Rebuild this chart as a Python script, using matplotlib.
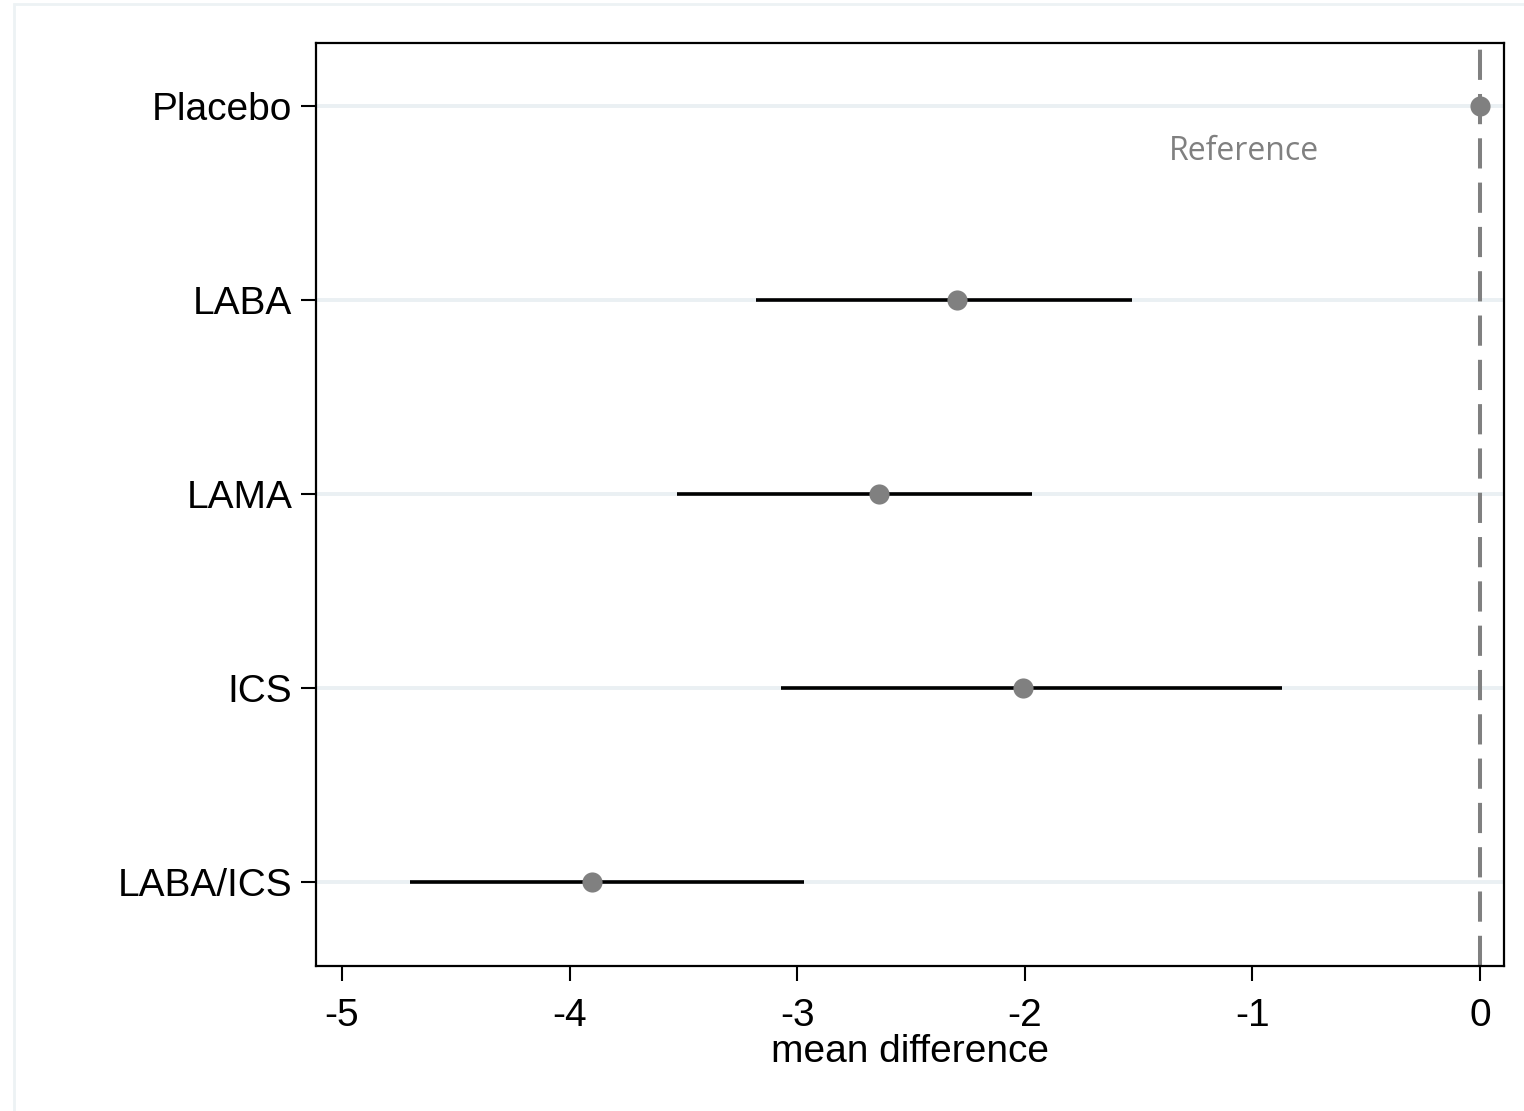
import matplotlib.pyplot as plt
from matplotlib.patches import Rectangle

# treatment effects vs placebo (mean difference, 95% CI)
treatments = ['LABA/ICS', 'ICS', 'LAMA', 'LABA', 'Placebo']
means = [-3.90, -2.01, -2.64, -2.30, 0.0]
lower = [-4.70, -3.07, -3.53, -3.18, None]
upper = [-2.97, -0.87, -1.97, -1.53, None]
xticks = [-5, -4, -3, -2, -1, 0]

plt.rcParams['font.family'] = ['Liberation Sans', 'DejaVu Sans']

fig = plt.figure(figsize=(15.24, 11.11), dpi=100)
ax = fig.add_axes([316 / 1524, 1 - 966 / 1111, (1504 - 316) / 1524, (966 - 43) / 1111])

# light frame around the graph region
fig.patches.append(Rectangle((14 / 1524, -0.1), 1.2, 1 - 4 / 1111 + 0.1,
                             transform=fig.transFigure, fill=False,
                             edgecolor='#edf2f4', linewidth=2.0, zorder=0))

ypos = list(range(1, len(treatments) + 1))
for y in ypos:
    ax.axhline(y, color='#eaf0f3', linewidth=2.8, zorder=0)

ax.axvline(0, color='#808080', linewidth=2.9, dashes=(7.5, 3.5), zorder=1)

for y, m, lo, hi in zip(ypos, means, lower, upper):
    if lo is not None:
        ax.plot([lo, hi], [y, y], color='black', linewidth=2.6, zorder=2,
                solid_capstyle='butt')
    ax.plot(m, y, 'o', color='#808080', markersize=14.5, markeredgewidth=0, zorder=3)

ax.text(-1.037, 4.765, 'Reference', color='#808080', fontsize=23,
        family=['Open Sans', 'DejaVu Sans'], ha='center', va='center')

ax.set_xlim(-5.114, 0.105)
ax.set_ylim(0.567, 5.325)
ax.set_xticks(xticks)
ax.set_xticklabels([str(t) for t in xticks])
ax.set_yticks(ypos)
ax.set_yticklabels(treatments)
ax.tick_params(axis='both', labelsize=28, width=1.5, length=11)
ax.tick_params(axis='x', pad=12)
ax.tick_params(axis='y', pad=6)
ax.set_xlabel('mean difference', fontsize=28, labelpad=0)

for s in ax.spines.values():
    s.set_linewidth(1.6)

fig.savefig('out.png', dpi=100)
